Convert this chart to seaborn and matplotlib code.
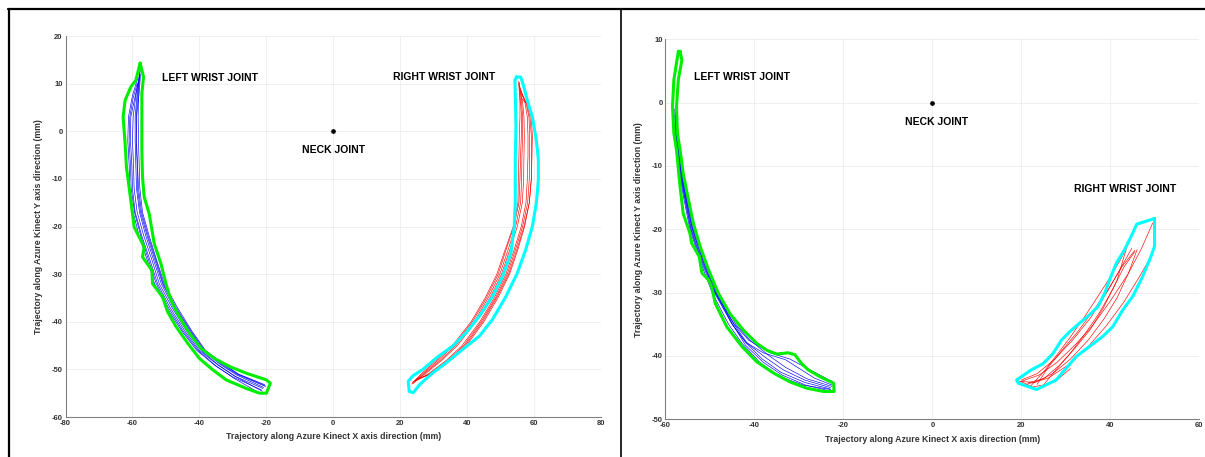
import numpy as np
import pandas as pd
import matplotlib
matplotlib.use("Agg")
import matplotlib.pyplot as plt
from matplotlib.lines import Line2D
import seaborn as sns

# ---- panel A (left figure) : left wrist trials (blue) ----
A_LEFT_X = [
    [-58.5, -60, -61.2, -61.4, -61, -60.8, -59.8, -58, -55.6, -53.4, -49.8, -45.2, -40.8, -35.3, -30, -21.5],
    [-57.8, -58.2, -58.3, -58.2, -58, -57.8, -57, -55, -52.8, -50.5, -46.6, -42.2, -38.2, -33, -28.3, -20.5],
    [-58.2, -59.3, -60.5, -60.6, -60.2, -60, -59.2, -57.2, -54.8, -52.5, -48.8, -44.3, -40, -34.6, -29.5, -21],
    [-57.6, -58, -58.8, -58.9, -58.6, -58.5, -57.6, -55.6, -53.3, -51, -47.3, -42.8, -38.8, -33.5, -28.6, -20.2],
    [-58, -59, -59.8, -60, -59.7, -59.5, -58.6, -56.6, -54.2, -52, -48.2, -43.8, -39.5, -34.3, -29.2, -21.2],
    [-57.9, -58.6, -59.2, -59.2, -59, -58.8, -57.9, -56, -53.7, -51.4, -47.7, -43.2, -39, -33.7, -28.8, -20.8],
    [-58.6, -59.8, -60.8, -61, -60.6, -60.4, -59.4, -57.5, -55.2, -52.9, -49.3, -44.8, -40.4, -35, -29.8, -22],
    [-57.7, -58.4, -58.9, -58.8, -58.5, -58.2, -57.3, -55.3, -53, -50.8, -47, -42.5, -38.5, -33.2, -28.4, -20.4],
]
A_LEFT_Y = [
    [11, 7.5, 3, -2, -7, -12, -17, -22, -27, -32, -37, -42, -46, -49.2, -51.6, -54.3],
    [12.5, 8, 3, -2, -7, -12, -17, -22, -27, -32, -37, -42, -46, -48.8, -51, -53.2],
    [10.5, 7, 3, -2, -7, -12, -17, -22, -27, -32, -37, -42, -46, -49, -51.4, -54],
    [12, 8, 3, -2, -7, -12, -17, -22, -27, -32, -37, -42, -46, -48.9, -51.1, -53.6],
    [11.5, 7.5, 3, -2, -7, -12, -17, -22, -27, -32, -37, -42, -46, -49.1, -51.5, -54.6],
    [12, 8, 3, -2, -7, -12, -17, -22, -27, -32, -37, -42, -46, -49, -51.2, -53.8],
    [10, 7, 3, -2, -7, -12, -17, -22, -27, -32, -37, -42, -46, -49.3, -51.8, -55],
    [12.8, 8, 3, -2, -7, -12, -17, -22, -27, -32, -37, -42, -46, -48.8, -51, -53.4],
]
# right wrist trials (red)
A_RIGHT_X = [
    [55.5, 56, 56.3, 56.2, 56, 55.8, 55.5, 54, 51.6, 49.3, 45.8, 41.6, 36, 31.5, 26.6, 23.6],
    [56, 57.8, 58.8, 59.2, 59.2, 59.2, 58.6, 57, 54.8, 52.4, 48.8, 44.6, 39.4, 34.8, 28.8, 24.6],
    [55.7, 56.6, 57, 57.1, 57, 56.9, 56.5, 55, 52.7, 50.3, 46.8, 42.6, 37.1, 32.6, 27.4, 24],
    [56.2, 58.2, 59.2, 59.5, 59.4, 59.2, 58.6, 57.2, 55.1, 52.7, 49.2, 45, 39.8, 35.2, 29.2, 24.8],
    [55.6, 56.3, 56.6, 56.6, 56.4, 56.3, 56, 54.5, 52.2, 49.8, 46.3, 42.1, 36.6, 32.1, 27, 23.8],
    [55.9, 57.3, 58, 58.2, 58.2, 58, 57.6, 56.2, 54, 51.6, 48.1, 43.8, 38.5, 34, 28.3, 24.4],
    [55.4, 55.8, 55.8, 55.6, 55.5, 55.3, 55.2, 53.8, 51.3, 48.9, 45.4, 41.2, 35.6, 31, 26.2, 23.5],
    [56.1, 57.6, 58.5, 58.7, 58.7, 58.6, 58.1, 56.6, 54.4, 52, 48.5, 44.2, 39, 34.4, 28.6, 24.5],
]
A_RIGHT_Y = [
    [10, 6, 3, -1, -5, -10, -15, -20, -25, -30, -35, -40, -45, -48, -51, -52.8],
    [8, 6, 3, -1, -5, -10, -15, -20, -25, -30, -35, -40, -45, -48, -51, -52.3],
    [9.5, 6, 3, -1, -5, -10, -15, -20, -25, -30, -35, -40, -45, -48, -51, -52.6],
    [7, 5.5, 3, -1, -5, -10, -15, -20, -25, -30, -35, -40, -45, -48, -51, -52.1],
    [10.3, 6, 3, -1, -5, -10, -15, -20, -25, -30, -35, -40, -45, -48, -51, -53],
    [9, 6, 3, -1, -5, -10, -15, -20, -25, -30, -35, -40, -45, -48, -51, -52.5],
    [10.5, 6, 3, -1, -5, -10, -15, -20, -25, -30, -35, -40, -45, -48, -51, -53.1],
    [8.5, 6, 3, -1, -5, -10, -15, -20, -25, -30, -35, -40, -45, -48, -51, -52.4],
]
A_LEFT_HULL_X = [-57.7, -56.7, -57.2, -57.2, -57.2, -57, -56.5, -55, -54.5, -53.5, -51.5, -50, -48.5,
                 -46, -43, -39.5, -35.5, -31, -26, -20, -18.8, -20, -22, -26, -32, -36, -40, -43.5,
                 -47, -49.5, -51, -54, -54.2, -57, -56.5, -59.5, -60.5, -61.8, -62.2, -62.8, -62.2,
                 -60.5, -59, -57.7]
A_LEFT_HULL_Y = [14.3, 11.4, 7.9, 3, -4, -9.6, -13.8, -17.3, -19.4, -23.6, -27.8, -32, -35.5,
                 -39, -42.4, -45.6, -47.7, -49.4, -50.8, -52.2, -52.9, -55, -55, -54, -52.2, -50.1, -47.7, -44.5,
                 -41, -37.9, -34.8, -32, -29.2, -26.4, -24.3, -20.1, -14.5, -7.5, -2.6, 3, 6.5,
                 9.3, 10.7, 14.3]
A_RIGHT_HULL_X = [54.75, 56, 56.7, 58, 59.5, 60.7, 61.3, 61.3, 60.7, 59.5, 57.5, 55, 51.6, 47.6, 43.7,
                  38.7, 33.8, 29.8, 25.8, 23.9, 22.7, 22.4, 23.9, 26.8, 30.8, 35.7, 39.7, 43.7, 47.6,
                  50.6, 53.1, 54.1, 54.4, 54.4, 54.6, 54.4, 54.3, 54.75]
A_RIGHT_HULL_Y = [11.4, 11.4, 10, 6.5, 3, -1.9, -6, -10.2, -15.1, -20, -24.9, -29.8, -34.7, -39.5, -43,
                  -45.8, -48.6, -50.7, -53.2, -54.9, -54.6, -52.5, -51.3, -50, -47.6, -45.1, -42.3, -38.8, -34.7,
                  -30.5, -25.6, -20, -15.1, -6, 0.9, 7.9, 10.7, 11.4]

# ---- panel B (right figure) ----
B_LEFT_X = [
    [-57.9, -57.7, -57.1, -55.9, -54.5, -52.2, -49.5, -45.8, -42.8, -38.8, -34.5, -29, -22.8],
    [-57.8, -57.5, -56.8, -55.5, -54, -51.6, -48.8, -45, -41.8, -38.2, -34, -28.6, -23],
    [-57.7, -57.3, -56.6, -55.2, -53.6, -51.1, -48.2, -44.2, -41, -37, -33, -28.2, -22.6],
    [-57.9, -57.5, -56.9, -55.6, -54.2, -51.8, -48.8, -44.5, -41.3, -36.5, -32, -28, -22.6],
    [-57.6, -57.3, -56.6, -55.3, -53.8, -51.3, -48.5, -44.9, -42, -38, -33.8, -28.5, -23.2],
    [-57.8, -57.6, -57, -55.7, -54.3, -52, -49, -45, -42, -38, -33, -31, -26.5, -22.5],
    [-57.7, -57.4, -56.7, -55.4, -53.9, -51.5, -48.6, -44.6, -41.6, -37.6, -33.5, -28.7, -22.9],
]
B_LEFT_Y = [
    [-1, -5, -10, -15, -20, -25, -30, -35, -38, -41, -43.2, -44.6, -45.3],
    [-2, -5, -10, -15, -20, -25, -30, -35, -38, -40.5, -42.6, -44.2, -45.2],
    [-3, -6, -10, -15, -20, -25, -30, -35, -37.5, -39.8, -41.8, -43.6, -44.8],
    [-2, -6, -10, -15, -20, -25, -30, -35, -37.5, -39.5, -40.5, -42, -44],
    [-4, -7, -10, -15, -20, -25, -30, -35, -38.3, -41, -43, -44.6, -45.5],
    [-1.5, -5, -10, -15, -20, -25, -30, -35, -37.8, -39.5, -40.6, -41.5, -43.5, -44.6],
    [-3, -6, -10, -15, -20, -25, -30, -35, -38, -40.2, -42.2, -43.8, -45],
]
B_RIGHT_X = [
    [20, 24, 28, 32, 36, 40, 44, 47, 49.5],
    [21, 26, 31, 35, 39, 43, 46.5, 49.5],
    [22, 25, 28, 31, 34, 37, 40, 42.5, 44.6],
    [23.5, 26, 29, 32.5, 36, 39.5, 42.5, 45.5],
    [20, 23.5, 27.5, 31.5, 35.5, 39, 42, 44.8],
    [24.5, 27, 30.5, 34, 37.5, 40.5, 43, 45.5],
    [19.5, 23, 27, 31, 35, 38.5, 41.5, 44, 46],
    [21.5, 25, 28.5, 32, 35.5, 38.5, 41.5, 43.6],
    [19.8, 22.5, 25.5, 28.5, 31],
]
B_RIGHT_Y = [
    [-44, -43, -41, -38.3, -35.2, -31.3, -27, -23, -19],
    [-44.5, -43.5, -41.2, -38.5, -35.3, -31.5, -27.5, -23.8],
    [-44.8, -42.5, -39.8, -37, -34, -30.8, -27.5, -24.5, -21.5],
    [-44.5, -41.8, -39.2, -36.3, -33, -29.5, -26, -23.3],
    [-43.8, -42.8, -40.5, -37.5, -34, -30.2, -26.5, -23],
    [-45, -42.8, -40, -36.8, -33.2, -29.5, -26, -23.5],
    [-44, -44.2, -42.8, -40.5, -37.5, -34.2, -30.8, -27, -23.2],
    [-44.2, -43.6, -41.5, -38.8, -35.8, -32.3, -28, -23],
    [-44, -44.9, -44.5, -43.5, -42],
]
B_LEFT_HULL_X = [-56.7, -56.3, -57.1, -57.5, -57.3, -56.7, -56, -54.8, -53.7, -52.2, -50.3, -48.1,
                 -45.5, -42.5, -39.5, -37.2, -35, -32.4, -30.9, -29.4, -27.9, -25.2, -22.2, -22.1,
                 -24.5, -28.2, -32, -35.7, -39.5, -42.8, -46.2, -48.8, -49.6, -50.3, -51.8, -52.4,
                 -54.1, -54.5, -56, -56.7, -57.5, -58.1, -58.4, -58.1, -57.4, -57.1, -56.7]
B_LEFT_HULL_Y = [8.1, 6.7, 3.6, -0.6, -4.8, -7.5, -11.2, -15.4, -19.1, -22.7, -26.4, -30.1,
                 -33.3, -35.9, -38, -39.1, -39.7, -39.5, -39.8, -41.2, -42.2, -43.3, -44.3, -45.6,
                 -45.6, -45.1, -44.1, -42.7, -40.9, -38.5, -35.4, -31.7, -29.1, -28, -26.9, -24.3,
                 -22.2, -20.6, -17.5, -13.3, -7.5, -4.8, -0.6, 3.6, 6.7, 8.1, 8.1]
B_RIGHT_HULL_X = [49.9, 45.9, 44.6, 43.1, 41.3, 39.8, 38.7, 37.2, 35.3, 33.1, 30.8, 29, 27.1, 24.9,
                  22.2, 18.9, 19.3, 23.4, 27.8, 30.1, 32.3, 35.3, 38.3, 40.5, 42.8, 45, 47.2, 49.1,
                  49.9, 49.9]
B_RIGHT_HULL_Y = [-18.3, -19.2, -21.2, -23.3, -25.4, -28, -30.1, -32.2, -33.5, -34.8, -36.2, -37.5, -39.6,
                  -41.2, -42.2, -43.8, -44.3, -45.3, -43.8, -41.9, -40.1, -38.5, -36.9, -35.4, -32.7, -30.6,
                  -27.5, -24.3, -22.7, -18.3]

NECK = (0, 0)
XLABEL = "Trajectory along Azure Kinect X axis direction (mm)"
YLABEL = "Trajectory along Azure Kinect Y axis direction (mm)"


def traj_frame(xs, ys):
    rows = []
    for k, (tx, ty) in enumerate(zip(xs, ys)):
        for x, y in zip(tx, ty):
            rows.append({"trial": k, "x": x, "y": y})
    return pd.DataFrame(rows)


def hull_frame(xs, ys):
    return pd.DataFrame({"trial": 0, "x": xs, "y": ys})


def draw_panel(ax, left_x, left_y, right_x, right_y, lhx, lhy, rhx, rhy,
               xlim, ylim, xstep, ystep, labels):
    sns.lineplot(data=traj_frame(left_x, left_y), x="x", y="y", units="trial",
                 estimator=None, sort=False, color="#0000ff", lw=0.45, ax=ax)
    sns.lineplot(data=traj_frame(right_x, right_y), x="x", y="y", units="trial",
                 estimator=None, sort=False, color="#ff0000", lw=0.45, ax=ax)
    sns.lineplot(data=hull_frame(lhx, lhy), x="x", y="y", units="trial",
                 estimator=None, sort=False, color="#00ee00", lw=2.2,
                 solid_joinstyle="round", ax=ax)
    sns.lineplot(data=hull_frame(rhx, rhy), x="x", y="y", units="trial",
                 estimator=None, sort=False, color="#00ffff", lw=2.2,
                 solid_joinstyle="round", ax=ax)
    sns.scatterplot(x=[NECK[0]], y=[NECK[1]], color="black", s=14, ax=ax, zorder=5)

    for txt, (tx, ty) in labels.items():
        ax.text(tx, ty, txt, ha="center", va="center", fontsize=7.5,
                fontweight="bold", color="black")

    ax.set_xlim(*xlim)
    ax.set_ylim(*ylim)
    ax.set_xticks(np.arange(xlim[0], xlim[1] + 1, xstep))
    ax.set_yticks(np.arange(ylim[0], ylim[1] + 1, ystep))
    ax.set_xlabel(XLABEL, fontsize=6.3, fontweight="bold", color="#333333", labelpad=4)
    ax.set_ylabel(YLABEL, fontsize=6.3, fontweight="bold", color="#333333", labelpad=6)
    ax.tick_params(axis="both", direction="in", length=3, width=0.6, labelsize=5.5,
                   colors="#808080", labelcolor="#333333", pad=2)
    for lab in ax.get_xticklabels() + ax.get_yticklabels():
        lab.set_fontweight("bold")
    ax.grid(True, color="#ececec", lw=0.6)
    ax.set_axisbelow(True)
    for side in ["top", "right"]:
        ax.spines[side].set_visible(False)
    for side in ["left", "bottom"]:
        ax.spines[side].set_color("#808080")
        ax.spines[side].set_linewidth(0.8)


sns.set_theme(style="white")
plt.rcParams["font.family"] = ["Liberation Sans", "DejaVu Sans"]
plt.rcParams["axes.unicode_minus"] = False

fig = plt.figure(figsize=(12.05, 4.57), dpi=100)
ax1 = fig.add_axes([0.0544, 0.0875, 0.4443, 0.8337])
ax2 = fig.add_axes([0.5522, 0.0825, 0.4432, 0.8315])

draw_panel(ax1, A_LEFT_X, A_LEFT_Y, A_RIGHT_X, A_RIGHT_Y,
           A_LEFT_HULL_X, A_LEFT_HULL_Y, A_RIGHT_HULL_X, A_RIGHT_HULL_Y,
           (-80, 80), (-60, 20), 20, 10,
           {"LEFT WRIST JOINT": (-36.9, 11.2), "RIGHT WRIST JOINT": (33, 11.3),
            "NECK JOINT": (0.2, -4)})
draw_panel(ax2, B_LEFT_X, B_LEFT_Y, B_RIGHT_X, B_RIGHT_Y,
           B_LEFT_HULL_X, B_LEFT_HULL_Y, B_RIGHT_HULL_X, B_RIGHT_HULL_Y,
           (-60, 60), (-50, 10), 20, 10,
           {"LEFT WRIST JOINT": (-42.9, 4.1), "RIGHT WRIST JOINT": (43.4, -13.7),
            "NECK JOINT": (1, -3)})

# black frame lines around the two panels
top = 1 - 9 / 457
fig.add_artist(Line2D([8 / 1205, 1], [top, top], color="black", lw=1.6))
fig.add_artist(Line2D([9 / 1205, 9 / 1205], [0, top], color="black", lw=1.6))
fig.add_artist(Line2D([621 / 1205, 621 / 1205], [0, top], color="black", lw=1.2))

fig.savefig("out.png", dpi=100)
